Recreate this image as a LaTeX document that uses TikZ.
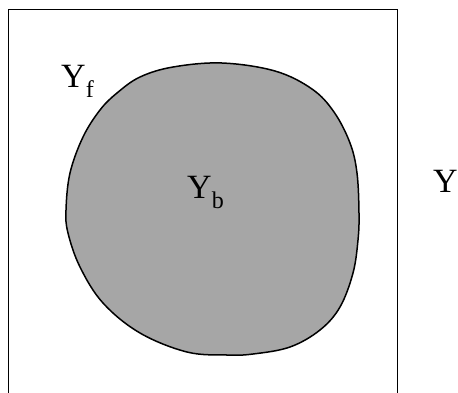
\documentclass[tikz,border=0pt]{standalone}
\usepackage{fontspec}
\setmainfont{Liberation Serif}
\definecolor{blobgray}{RGB}{166,166,166}
\tikzset{
  lbl/.style={anchor=base west, inner sep=0pt, font=\fontsize{34}{40}\selectfont},
  frame/.style={draw=black, line width=1.3pt},
  blob/.style={draw=black, line width=1.5pt, fill=blobgray}
}
\newcommand{\mysub}[1]{\raisebox{-0.3em}{\fontsize{24}{26}\selectfont #1}}
\begin{document}
\begin{tikzpicture}[x=1pt, y=-1pt]
\useasboundingbox (0,0) rectangle (458,392);
\clip (0,0) rectangle (458,392);
\draw[frame] (8.7,420) -- (8.7,9.7) -- (397.3,9.7) -- (397.3,420);
\draw[blob] plot[smooth cycle, tension=0.6] coordinates {
  (222,63) (275,71) (312,89) (334,112) (350,143) (357,173) (359,213)
  (358,240) (353,273) (340,307) (320,330) (290,347) (253,354) (227,355)
  (187,352) (140,333) (103,303) (80,267) (68,233) (66,210)
  (70,173) (83,137) (100,110) (117,93) (140,77) (173,67)};
\node[lbl] (yf) at (61,87) {Y\mysub{f}};
\node[lbl] (yb) at (187,198) {Y\mysub{b}};
\node[lbl] (y) at (433,192) {Y};
\end{tikzpicture}
\end{document}
